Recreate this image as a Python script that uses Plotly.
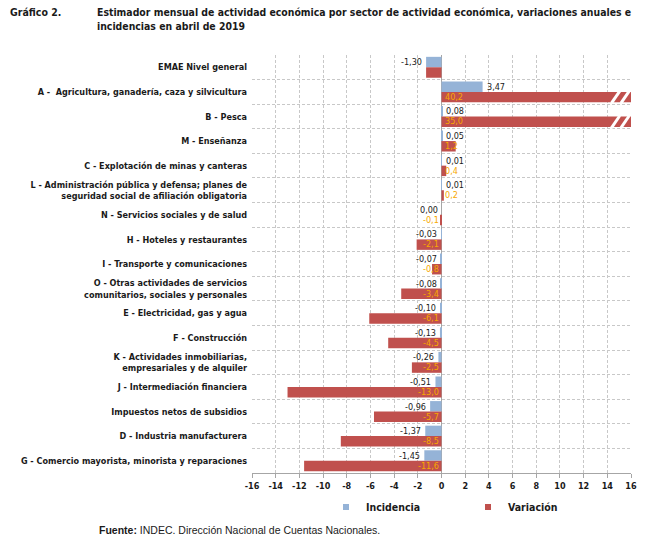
import plotly.graph_objects as go

categories = [
    "EMAE Nivel general",
    "A -  Agricultura, ganadería, caza y silvicultura",
    "B - Pesca",
    "M - Enseñanza",
    "C - Explotación de minas y canteras",
    "L - Administración pública y defensa; planes de<br>seguridad social de afiliación obligatoria",
    "N - Servicios sociales y de salud",
    "H - Hoteles y restaurantes",
    "I - Transporte y comunicaciones",
    "O - Otras actividades de servicios<br>comunitarios, sociales y personales",
    "E - Electricidad, gas y agua",
    "F - Construcción",
    "K - Actividades inmobiliarias,<br>empresariales y de alquiler",
    "J - Intermediación financiera",
    "Impuestos netos de subsidios",
    "D - Industria manufacturera",
    "G - Comercio mayorista, minorista y reparaciones",
]
incidencia = [-1.30, 3.47, 0.08, 0.05, 0.01, 0.01, 0.00, -0.03, -0.07, -0.08,
              -0.10, -0.13, -0.26, -0.51, -0.96, -1.37, -1.45]
variacion = [-1.3, 40.2, 35.0, 1.2, 0.4, 0.2, -0.1, -2.1, -0.8, -3.4,
             -6.1, -4.5, -2.5, -13.0, -5.7, -8.5, -11.6]
x_ticks = list(range(-16, 17, 2))

W, H = 649, 542
L, R, T, B = 252, 18, 55, 69
XMIN, XMAX = -16, 16
FONT = "DejaVu Sans Condensed, Liberation Sans Narrow, Arial Narrow, sans-serif"
BLUE = "#95B3D7"
RED = "#C0504D"
ORANGE = "#F7A800"
TXT = "#1a1a1a"


def px_x(p):
    return (p - L) / (W - L - R)


def px_y(p):
    return (H - B - p) / (H - T - B)


def fmt(v, d):
    return f"{v:.{d}f}".replace(".", ",")


fig = go.Figure()
fig.add_trace(go.Bar(y=categories, x=incidencia, orientation="h", name="Incidencia",
                     marker=dict(color=BLUE, line=dict(width=0)), showlegend=False))
fig.add_trace(go.Bar(y=categories, x=variacion, orientation="h", name="Variación",
                     marker=dict(color=RED, line=dict(width=0)), showlegend=False))
# legend proxies
fig.add_trace(go.Scatter(x=[None], y=[None], mode="markers", name="<b>Incidencia</b>",
                         marker=dict(symbol="square", size=6, color=BLUE), legend="legend"))
fig.add_trace(go.Scatter(x=[None], y=[None], mode="markers", name="<b>Variación</b>",
                         marker=dict(symbol="square", size=6, color=RED), legend="legend2"))

annotations = []
for i, (cat, inc, var) in enumerate(zip(categories, incidencia, variacion)):
    neg = var < 0
    annotations.append(dict(
        x=inc, y=cat, xref="x", yref="y", text=fmt(inc, 2), showarrow=False,
        xanchor="right" if neg else "left", xshift=-2 if neg else 2, yshift=5,
        font=dict(family=FONT, size=9, color=TXT),
    ))
    if i > 0:
        annotations.append(dict(
            x=0, y=cat, xref="x", yref="y", text=fmt(var, 1), showarrow=False,
            xanchor="right" if neg else "left", xshift=-1 if neg else 1, yshift=-5,
            font=dict(family=FONT, size=9, color=ORANGE),
        ))

# titles and source
annotations += [
    dict(x=px_x(8), y=px_y(4), xref="paper", yref="paper", xanchor="left", yanchor="top",
         text="<b>Gráfico 2.</b>", showarrow=False, align="left",
         font=dict(family=FONT, size=10.5, color=TXT)),
    dict(x=px_x(95), y=px_y(4), xref="paper", yref="paper", xanchor="left", yanchor="top",
         text="<b>Estimador mensual de actividad económica por sector de actividad económica, variaciones anuales e<br>incidencias en abril de 2019</b>",
         showarrow=False, align="left",
         font=dict(family=FONT, size=10.4, color=TXT)),
    dict(x=px_x(97), y=px_y(530), xref="paper", yref="paper", xanchor="left", yanchor="middle",
         text="<b>Fuente:</b> INDEC. Dirección Nacional de Cuentas Nacionales.",
         showarrow=False, align="left",
         font=dict(family="Liberation Sans, Arial, sans-serif", size=10.5, color=TXT)),
]

# axis-break marks on bars exceeding the axis
shapes = []
for i, var in enumerate(variacion):
    if var > XMAX:
        for xb in (XMAX - 1.3, XMAX - 0.5):
            shapes.append(dict(type="line", xref="x", yref="y",
                               x0=xb - 0.35, x1=xb + 0.35, y0=i + 0.46, y1=i - 0.03,
                               line=dict(color="white", width=3)))

legend_common = dict(orientation="h", yanchor="middle", xanchor="left",
                     font=dict(family=FONT, size=10.5, color=TXT),
                     itemwidth=30, bgcolor="rgba(0,0,0,0)", borderwidth=0)

fig.update_layout(
    width=W, height=H,
    margin=dict(l=L, r=R, t=T, b=B, autoexpand=False),
    paper_bgcolor="white", plot_bgcolor="white",
    barmode="group", bargap=0.15, bargroupgap=0.0,
    font=dict(family=FONT, size=9, color=TXT),
    annotations=annotations, shapes=shapes,
    legend=dict(x=px_x(326), y=px_y(507), **legend_common),
    legend2=dict(x=px_x(468), y=px_y(507), **legend_common),
    xaxis=dict(range=[XMIN, XMAX], tickvals=x_ticks, ticktext=[f"<b>{t}</b>" for t in x_ticks],
               showgrid=True, gridcolor="#C8C8C8", griddash="3px,2px", gridwidth=1,
               zeroline=True, zerolinecolor="#A6A6A6", zerolinewidth=1,
               showline=True, linecolor="#A6A6A6", linewidth=1,
               ticks="outside", ticklen=4, tickcolor="#A6A6A6", automargin=False,
               tickfont=dict(family=FONT, size=9, color=TXT), fixedrange=True),
    yaxis=dict(type="category", autorange="reversed", categoryorder="array",
               categoryarray=categories, automargin=False,
               tickvals=categories, ticktext=[f"<b>{c}</b>" for c in categories],
               tickson="boundaries", ticks="", showgrid=True, gridcolor="#C8C8C8",
               griddash="3px,2px", gridwidth=1, showline=False, zeroline=False,
               ticklabelstandoff=4,
               tickfont=dict(family=FONT, size=9, color=TXT), fixedrange=True),
)

fig.write_html("out.html", config={"displayModeBar": False},
               post_script="document.body.style.margin='0';")
